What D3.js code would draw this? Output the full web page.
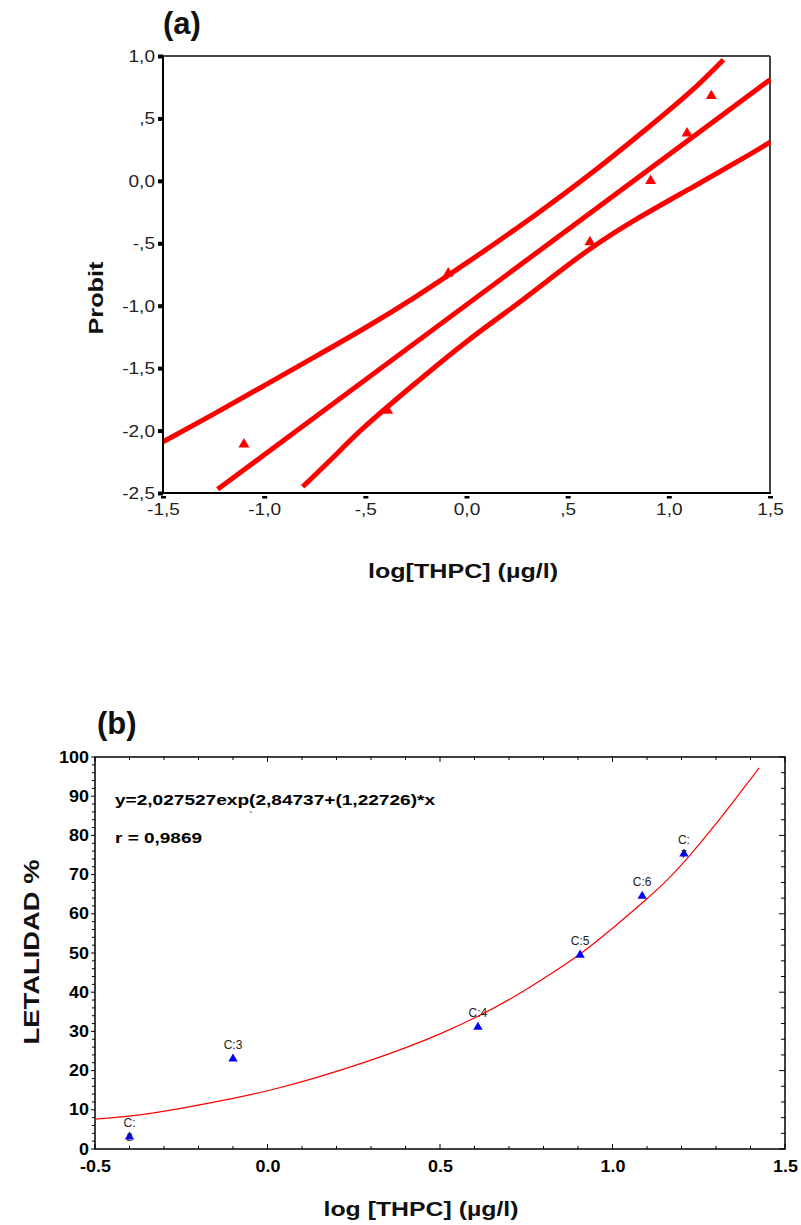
<!DOCTYPE html>
<html>
<head>
<meta charset="utf-8">
<script src="https://cdn.jsdelivr.net/npm/d3@7"></script>
<style>
body { margin: 0; background: #fff; }
svg { display: block; font-family: "Liberation Sans", Arial, sans-serif; }
</style>
</head>
<body>
<script>
// ---- (a) probit plot ----
const probitX = [-1.1, -0.39, -0.09, 0.61, 0.91, 1.09, 1.21];
const probitY = [-2.11, -1.84, -0.74, -0.49, 0.0, 0.38, 0.68];

const fitX = [-1.23, 1.5];
const fitY = [-2.47, 0.81];

const upperX = [-1.5, -1.25, -1.0, -0.75, -0.5, -0.25, 0.0, 0.33, 0.66, 0.9, 1.11, 1.27];
const upperY = [-2.09, -1.87, -1.64, -1.41, -1.18, -0.93, -0.66, -0.29, 0.11, 0.43, 0.71, 0.97];

const lowerX = [-0.81, -0.66, -0.53, -0.26, 0.0, 0.25, 0.4, 0.6, 0.83, 1.12, 1.41, 1.5];
const lowerY = [-2.45, -2.22, -2.0, -1.63, -1.28, -0.99, -0.8, -0.55, -0.31, -0.05, 0.22, 0.31];

const aTicksX = [-1.5, -1, -0.5, 0, 0.5, 1, 1.5];
const aLabelsX = ['-1,5', '-1,0', '-,5', '0,0', ',5', '1,0', '1,5'];
const aTicksY = [-2.5, -2, -1.5, -1, -0.5, 0, 0.5, 1];
const aLabelsY = ['-2,5', '-2,0', '-1,5', '-1,0', '-,5', '0,0', ',5', '1,0'];

// ---- (b) lethality curve ----
const letX = [-0.4, -0.1, 0.61, 0.906, 1.086, 1.207];
const letY = [3.1, 23.0, 31.1, 49.5, 64.5, 75.3];
const letLabel = ['C:', 'C:3', 'C:4', 'C:5', 'C:6', 'C:'];
const letUnder = ['2', '', '', '', '', '7'];

const curveX = [-0.5, -0.39, -0.27, -0.09, 0.01, 0.14, 0.29, 0.41, 0.5, 0.61, 0.72, 0.82, 0.91, 1.0, 1.09, 1.16, 1.21, 1.25, 1.31, 1.35, 1.425];
const curveY = [7.6, 8.4, 10.0, 13.0, 15.0, 18.1, 22.3, 26.1, 29.3, 33.7, 39.0, 44.6, 49.8, 56.3, 63.0, 68.6, 73.4, 77.6, 84.0, 88.6, 97.2];

const bTicksX = [-0.5, 0, 0.5, 1, 1.5];
const bLabelsX = ['-0.5', '0.0', '0.5', '1.0', '1.5'];
const bTicksY = [0, 10, 20, 30, 40, 50, 60, 70, 80, 90, 100];

const width = 801;
const height = 1225;

const svg = d3.select('body')
	.append('svg')
	.attr('width', width)
	.attr('height', height);

svg.append('rect').attr('width', width).attr('height', height).attr('fill', '#fff');

// stretch text horizontally like the scanned figure
function stretch(sel, f) {
	sel.each(function() {
		const w = this.getComputedTextLength();
		d3.select(this).attr('textLength', w * f).attr('lengthAdjust', 'spacingAndGlyphs');
	});
}

/* ================= (a) ================= */
const xA = d3.scaleLinear().domain([-1.5, 1.5]).range([163, 770]);
const yA = d3.scaleLinear().domain([-2.5, 1]).range([493, 56]);

const lineA = d3.line().x(d => xA(d[0])).y(d => yA(d[1])).curve(d3.curveBasis);

// frame: top/right grey, left/bottom black
svg.append('line').attr('x1', xA(-1.5)).attr('x2', xA(1.5)).attr('y1', yA(1)).attr('y2', yA(1))
	.attr('stroke', '#444').attr('stroke-width', 2);
svg.append('line').attr('x1', xA(1.5)).attr('x2', xA(1.5)).attr('y1', yA(1)).attr('y2', yA(-2.5))
	.attr('stroke', '#444').attr('stroke-width', 2);

const gA = svg.append('g');
[[upperX, upperY], [lowerX, lowerY], [fitX, fitY]].forEach(function(s) {
	gA.append('path')
		.datum(d3.zip(s[0], s[1]))
		.attr('d', lineA)
		.attr('fill', 'none')
		.attr('stroke', '#ff0000')
		.attr('stroke-width', 5)
		.attr('stroke-linejoin', 'round');
});

gA.selectAll('.ptA')
	.data(d3.zip(probitX, probitY))
	.enter()
	.append('path')
	.attr('class', 'ptA')
	.attr('d', d3.symbol(d3.symbolTriangle, 52))
	.attr('transform', d => 'translate(' + xA(d[0]) + ',' + yA(d[1]) + ')')
	.attr('fill', '#ff0000');

svg.append('line').attr('x1', xA(-1.5)).attr('x2', xA(-1.5)).attr('y1', yA(1)).attr('y2', yA(-2.5))
	.attr('stroke', '#000').attr('stroke-width', 2);
svg.append('line').attr('x1', xA(-1.5) - 1).attr('x2', xA(1.5) + 1).attr('y1', yA(-2.5)).attr('y2', yA(-2.5))
	.attr('stroke', '#000').attr('stroke-width', 2);

const axA_y = svg.append('g')
	.attr('transform', 'translate(' + xA(-1.5) + ',0)')
	.call(d3.axisLeft(yA).tickValues(aTicksY).tickFormat((d, i) => aLabelsY[i]).tickSize(5).tickPadding(3));
axA_y.select('.domain').remove();
axA_y.selectAll('.tick line').attr('stroke', '#000').attr('stroke-width', 4);
axA_y.selectAll('.tick text').attr('font-size', 17).attr('fill', '#222')
	.style('font-family', '"Liberation Sans", Arial, sans-serif');
stretch(axA_y.selectAll('.tick text'), 1.12);

const axA_x = svg.append('g')
	.attr('transform', 'translate(0,' + yA(-2.5) + ')')
	.call(d3.axisBottom(xA).tickValues(aTicksX).tickFormat((d, i) => aLabelsX[i]).tickSize(0).tickPadding(10));
axA_x.select('.domain').remove();
axA_x.selectAll('.tick').append('rect')
	.attr('x', -2.5).attr('y', 3).attr('width', 5).attr('height', 2.5).attr('fill', '#000');
axA_x.selectAll('.tick text').attr('font-size', 17).attr('fill', '#222')
	.style('font-family', '"Liberation Sans", Arial, sans-serif');
stretch(axA_x.selectAll('.tick text'), 1.12);

svg.append('text').text('(a)')
	.attr('x', 163).attr('y', 34)
	.attr('font-size', 31).attr('font-weight', 'bold').attr('fill', '#111');

svg.append('text').text('Probit')
	.attr('transform', 'translate(103,298) rotate(-90)')
	.attr('text-anchor', 'middle')
	.attr('font-size', 21).attr('font-weight', 'bold').attr('fill', '#111')
	.attr('textLength', 73).attr('lengthAdjust', 'spacingAndGlyphs');

svg.append('text').text('log[THPC] (µg/l)')
	.attr('x', 463).attr('y', 578)
	.attr('text-anchor', 'middle')
	.attr('font-size', 21).attr('font-weight', 'bold').attr('fill', '#111')
	.attr('textLength', 190).attr('lengthAdjust', 'spacingAndGlyphs');

/* ================= (b) ================= */
const xB = d3.scaleLinear().domain([-0.5, 1.5]).range([95, 785]);
const yB = d3.scaleLinear().domain([0, 100]).range([1149, 757]);

const lineB = d3.line().x(d => xB(d[0])).y(d => yB(d[1])).curve(d3.curveBasis);

// minor ticks
const gT = svg.append('g').attr('stroke', '#000').attr('stroke-width', 1);
gT.selectAll('.tl').data(d3.range(0, 101, 2)).enter().append('line')
	.attr('x1', d => xB(-0.5) - (d % 10 === 0 ? 4 : 3)).attr('x2', xB(-0.5))
	.attr('y1', d => yB(d)).attr('y2', d => yB(d));
gT.selectAll('.tr').data(d3.range(0, 101, 4)).enter().append('line')
	.attr('x1', xB(1.5)).attr('x2', d => xB(1.5) - (d % 20 === 0 ? 6 : 4))
	.attr('y1', d => yB(d)).attr('y2', d => yB(d));
gT.selectAll('.tt').data(d3.range(-5, 16)).enter().append('line')
	.attr('x1', d => xB(d / 10)).attr('x2', d => xB(d / 10))
	.attr('y1', yB(100)).attr('y2', d => yB(100) + (d % 5 === 0 ? 5 : 3));
gT.selectAll('.tb').data(d3.range(-5, 16)).enter().append('line')
	.attr('x1', d => xB(d / 10)).attr('x2', d => xB(d / 10))
	.attr('y1', yB(0)).attr('y2', d => yB(0) - (d % 5 === 0 ? 5 : 3));

svg.append('rect')
	.attr('x', xB(-0.5)).attr('y', yB(100))
	.attr('width', xB(1.5) - xB(-0.5)).attr('height', yB(0) - yB(100))
	.attr('fill', 'none').attr('stroke', '#000').attr('stroke-width', 1.5);

svg.append('path')
	.datum(d3.zip(curveX, curveY))
	.attr('d', lineB)
	.attr('fill', 'none')
	.attr('stroke', '#ff0000')
	.attr('stroke-width', 1.2);

const ptsB = d3.zip(letX, letY, letLabel, letUnder);

svg.selectAll('.ptB')
	.data(ptsB)
	.enter()
	.append('path')
	.attr('class', 'ptB')
	.attr('d', d3.symbol(d3.symbolTriangle, 38))
	.attr('transform', d => 'translate(' + xB(d[0]) + ',' + yB(d[1]) + ')')
	.attr('fill', '#0000ff');

svg.selectAll('.lbB')
	.data(ptsB)
	.enter()
	.append('text')
	.attr('class', 'lbB')
	.attr('x', d => xB(d[0]))
	.attr('y', d => yB(d[1]) - 10)
	.attr('text-anchor', 'middle')
	.attr('font-size', 12)
	.attr('fill', '#222')
	.text(d => d[2]);

svg.selectAll('.unB')
	.data(ptsB.filter(d => d[3]))
	.enter()
	.append('text')
	.attr('x', d => xB(d[0]))
	.attr('y', d => yB(d[1]) + 4)
	.attr('text-anchor', 'middle')
	.attr('font-size', 11)
	.attr('fill', '#222')
	.text(d => d[3]);

const axB_y = svg.append('g')
	.attr('transform', 'translate(' + xB(-0.5) + ',0)')
	.call(d3.axisLeft(yB).tickValues(bTicksY).tickSize(0).tickPadding(6));
axB_y.select('.domain').remove();
axB_y.selectAll('.tick text').attr('font-size', 16).attr('font-weight', 'bold').attr('fill', '#000')
	.style('font-family', '"Liberation Sans", Arial, sans-serif');
stretch(axB_y.selectAll('.tick text'), 1.12);

const axB_x = svg.append('g')
	.attr('transform', 'translate(0,' + yB(0) + ')')
	.call(d3.axisBottom(xB).tickValues(bTicksX).tickFormat((d, i) => bLabelsX[i]).tickSize(0).tickPadding(12));
axB_x.select('.domain').remove();
axB_x.selectAll('.tick text').attr('font-size', 16).attr('font-weight', 'bold').attr('fill', '#000')
	.style('font-family', '"Liberation Sans", Arial, sans-serif');
stretch(axB_x.selectAll('.tick text'), 1.12);

svg.append('text').text('y=2,027527exp(2,84737+(1,22726)*x')
	.attr('x', 115).attr('y', 805)
	.attr('font-size', 14).attr('font-weight', 'bold').attr('fill', '#000')
	.attr('textLength', 320).attr('lengthAdjust', 'spacingAndGlyphs');
svg.append('text').text('`')
	.attr('x', 249).attr('y', 820)
	.attr('font-size', 11).attr('fill', '#000');

svg.append('text').text('r = 0,9869')
	.attr('x', 115).attr('y', 843)
	.attr('font-size', 14).attr('font-weight', 'bold').attr('fill', '#000')
	.attr('textLength', 87).attr('lengthAdjust', 'spacingAndGlyphs');

svg.append('text').text('(b)')
	.attr('x', 97).attr('y', 734)
	.attr('font-size', 31).attr('font-weight', 'bold').attr('fill', '#111');

svg.append('text').text('LETALIDAD %')
	.attr('transform', 'translate(39,952) rotate(-90)')
	.attr('text-anchor', 'middle')
	.attr('font-size', 22).attr('font-weight', 'bold').attr('fill', '#111')
	.attr('textLength', 185).attr('lengthAdjust', 'spacingAndGlyphs');

svg.append('text').text('log [THPC] (µg/l)')
	.attr('x', 421).attr('y', 1216)
	.attr('text-anchor', 'middle')
	.attr('font-size', 20).attr('font-weight', 'bold').attr('fill', '#111')
	.attr('textLength', 195).attr('lengthAdjust', 'spacingAndGlyphs');
</script>
</body>
</html>
